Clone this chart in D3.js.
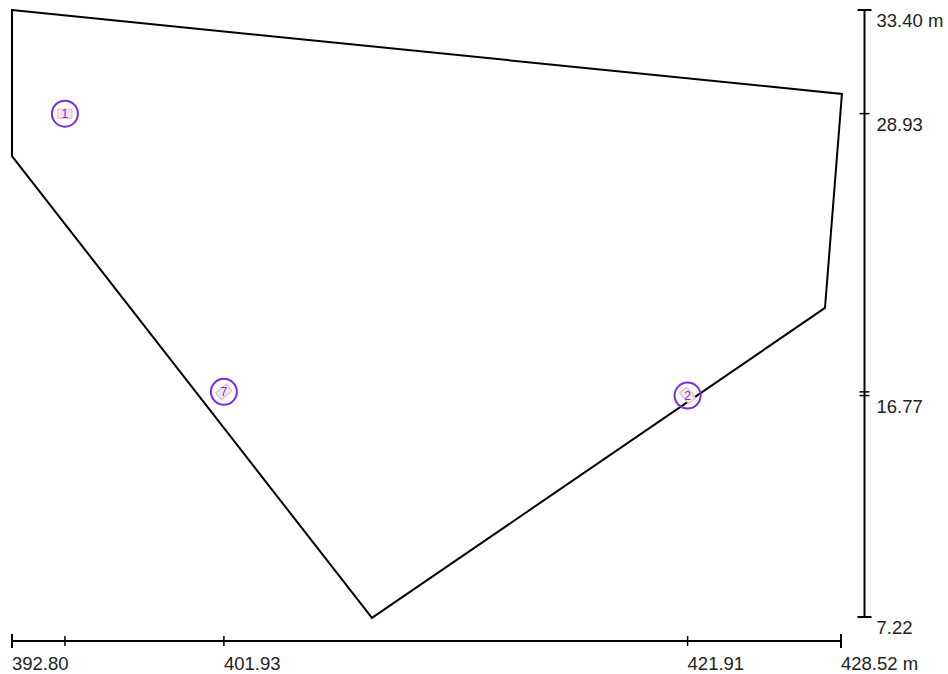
<!DOCTYPE html>
<html>
<head>
<meta charset="utf-8">
<script src="https://cdn.jsdelivr.net/npm/d3@7"></script>
<style>
  html, body { margin: 0; padding: 0; background: #fff; }
  svg { display: block; }
  text { font-family: "Liberation Sans", Arial, sans-serif; }
</style>
</head>
<body>
<svg id="chart" width="948" height="674"></svg>
<script>
// Boundary polygon vertices (metres)
const polyX = [392.80, 428.56, 427.83, 408.31, 392.80];
const polyY = [33.40, 29.78, 20.55, 7.18, 27.10];

// Survey markers
const markerIds = ["1", "7", "2"];
const markerX = [395.08, 401.93, 421.91];
const markerY = [28.93, 16.93, 16.77];
const markerAngle = [0, -40, 50];

// Axis tick labels
const xTickValues = [392.80, 395.08, 401.93, 421.91, 428.52];
const xTickLabels = ["392.80", "", "401.93", "421.91", "428.52 m"];
const yTickValues = [33.40, 28.93, 16.93, 16.77, 7.22];
const yTickLabels = ["33.40 m", "28.93", "", "16.77", "7.22"];

const svg = d3.select("#chart");
const x = d3.scaleLinear().domain([392.80, 428.52]).range([12, 841]);
const y = d3.scaleLinear().domain([7.22, 33.40]).range([617, 10]);

// polygon
const pts = polyX.map((v, i) => [x(v), y(polyY[i])]);
svg.append("path")
  .attr("d", d3.line()(pts) + "Z")
  .attr("fill", "none")
  .attr("stroke", "#000")
  .attr("stroke-width", 2)
  .attr("stroke-linejoin", "miter");

// x axis
const xAxisY = 641;
const gx = svg.append("g");
gx.append("line").attr("x1", x(392.80)).attr("x2", x(428.52))
  .attr("y1", xAxisY).attr("y2", xAxisY).attr("stroke", "#000").attr("stroke-width", 2);
xTickValues.forEach((v, i) => {
  const end = (i === 0 || i === xTickValues.length - 1);
  gx.append("line").attr("x1", x(v)).attr("x2", x(v))
    .attr("y1", xAxisY - (end ? 7 : 5)).attr("y2", xAxisY + (end ? 7 : 5))
    .attr("stroke", "#000").attr("stroke-width", end ? 2 : 1.5);
  if (xTickLabels[i]) {
    gx.append("text").attr("x", x(v)).attr("y", 670)
      .attr("font-size", 18.5).attr("fill", "#222").text(xTickLabels[i]);
  }
});

// y axis
const yAxisX = 864.5;
const gy = svg.append("g");
gy.append("line").attr("x1", yAxisX).attr("x2", yAxisX)
  .attr("y1", y(33.40)).attr("y2", y(7.22)).attr("stroke", "#000").attr("stroke-width", 2);
yTickValues.forEach((v, i) => {
  const end = (i === 0 || i === yTickValues.length - 1);
  gy.append("line").attr("x1", yAxisX - (end ? 7 : 5)).attr("x2", yAxisX + (end ? 7 : 5))
    .attr("y1", y(v)).attr("y2", y(v))
    .attr("stroke", "#000").attr("stroke-width", end ? 2 : 1.5);
  if (yTickLabels[i]) {
    gy.append("text").attr("x", yAxisX + 12).attr("y", y(v) + 17)
      .attr("font-size", 18.5).attr("fill", "#222").text(yTickLabels[i]);
  }
});

// markers
const purple = "#7b2fd8";
markerIds.forEach((id, i) => {
  const cx = x(markerX[i]), cy = y(markerY[i]);
  const g = svg.append("g").attr("transform", `translate(${cx},${cy})`);
  const inner = g.append("g").attr("transform", `rotate(${markerAngle[i]})`);
  inner.append("rect").attr("x", -7).attr("y", -4.5).attr("width", 14).attr("height", 9)
    .attr("fill", "#f6e3ee").attr("stroke", "#d8b8c8").attr("stroke-width", 1);
  g.append("text").attr("x", 0).attr("y", 4.5).attr("text-anchor", "middle")
    .attr("font-size", 12).attr("fill", purple).text(id);
  g.append("circle").attr("r", 13).attr("fill", "none")
    .attr("stroke", purple).attr("stroke-width", 2);
});
</script>
</body>
</html>
